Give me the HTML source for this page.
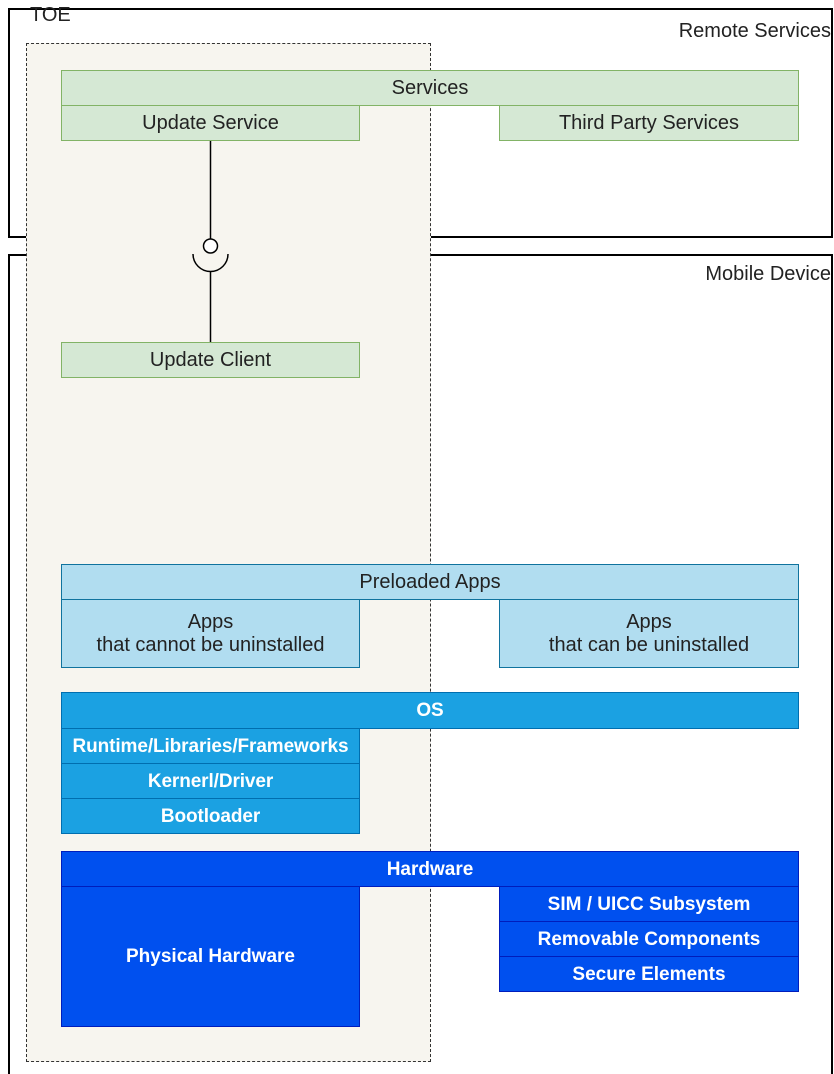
<!DOCTYPE html>
<html style="overflow:hidden"><head><style>
html,body{margin:0;width:834px;height:1074px;overflow:hidden;}
body{background:#fff;position:relative;font-family:"Liberation Sans",sans-serif;}
.a{position:absolute;box-sizing:border-box;}
.b{position:absolute;box-sizing:border-box;display:flex;align-items:center;justify-content:center;text-align:center;font-size:20px;line-height:23px;}
.g{background:#d5e8d4;border:1.5px solid #82b366;color:#222;}
.l{background:#b1ddf0;border:1.5px solid #10739e;color:#222;}
.o{background:#1ba1e2;border:1.5px solid #006eaf;color:#fff;font-weight:bold;font-size:19px;letter-spacing:-0.1px;}
.h{background:#0050ef;border:1.5px solid #001dbc;color:#fff;font-weight:bold;font-size:19px;letter-spacing:0px;}
.t{position:absolute;font-size:20px;color:#222;}
</style></head><body>
<div class="a" style="left:8px;top:8px;width:825px;height:230px;border:2px solid #000;"></div>
<div class="a" style="left:8px;top:254px;width:825px;height:840px;border:2px solid #000;"></div>
<div class="a" style="left:26px;top:43px;width:405px;height:1019px;border:1.5px dashed #333;background:#f7f5ef;"></div>
<div class="t" style="left:30px;top:4px;">TOE</div>
<div class="t" style="right:3px;top:20px;">Remote Services</div>
<div class="t" style="right:3px;top:263px;">Mobile Device</div>

<div class="b g" style="left:61px;top:70px;width:738px;height:36px;">Services</div>
<div class="b g" style="left:61px;top:105px;width:299px;height:36px;">Update Service</div>
<div class="b g" style="left:499px;top:105px;width:300px;height:36px;">Third Party Services</div>
<div class="b g" style="left:61px;top:342px;width:299px;height:36px;">Update Client</div>

<svg class="a" style="left:0;top:0" width="834" height="1074">
<line x1="210.5" y1="141" x2="210.5" y2="239" stroke="#000" stroke-width="1.5"/>
<circle cx="210.5" cy="246" r="7" fill="#fff" stroke="#000" stroke-width="1.5"/>
<path d="M193 254 A17 17 0 0 0 228 254" fill="none" stroke="#000" stroke-width="1.5"/>
<line x1="210.5" y1="271" x2="210.5" y2="342" stroke="#000" stroke-width="1.5"/>
</svg>

<div class="b l" style="left:61px;top:564px;width:738px;height:36px;">Preloaded Apps</div>
<div class="b l" style="left:61px;top:599px;width:299px;height:69px;">Apps<br>that cannot be uninstalled</div>
<div class="b l" style="left:499px;top:599px;width:300px;height:69px;">Apps<br>that can be uninstalled</div>

<div class="b o" style="left:61px;top:692px;width:738px;height:37px;">OS</div>
<div class="b o" style="left:61px;top:728px;width:299px;height:36px;">Runtime/Libraries/Frameworks</div>
<div class="b o" style="left:61px;top:763px;width:299px;height:36px;">Kernerl/Driver</div>
<div class="b o" style="left:61px;top:798px;width:299px;height:36px;">Bootloader</div>

<div class="b h" style="left:61px;top:851px;width:738px;height:36px;">Hardware</div>
<div class="b h" style="left:61px;top:886px;width:299px;height:141px;">Physical Hardware</div>
<div class="b h" style="left:499px;top:886px;width:300px;height:36px;">SIM / UICC Subsystem</div>
<div class="b h" style="left:499px;top:921px;width:300px;height:36px;">Removable Components</div>
<div class="b h" style="left:499px;top:956px;width:300px;height:36px;">Secure Elements</div>
</body></html>
